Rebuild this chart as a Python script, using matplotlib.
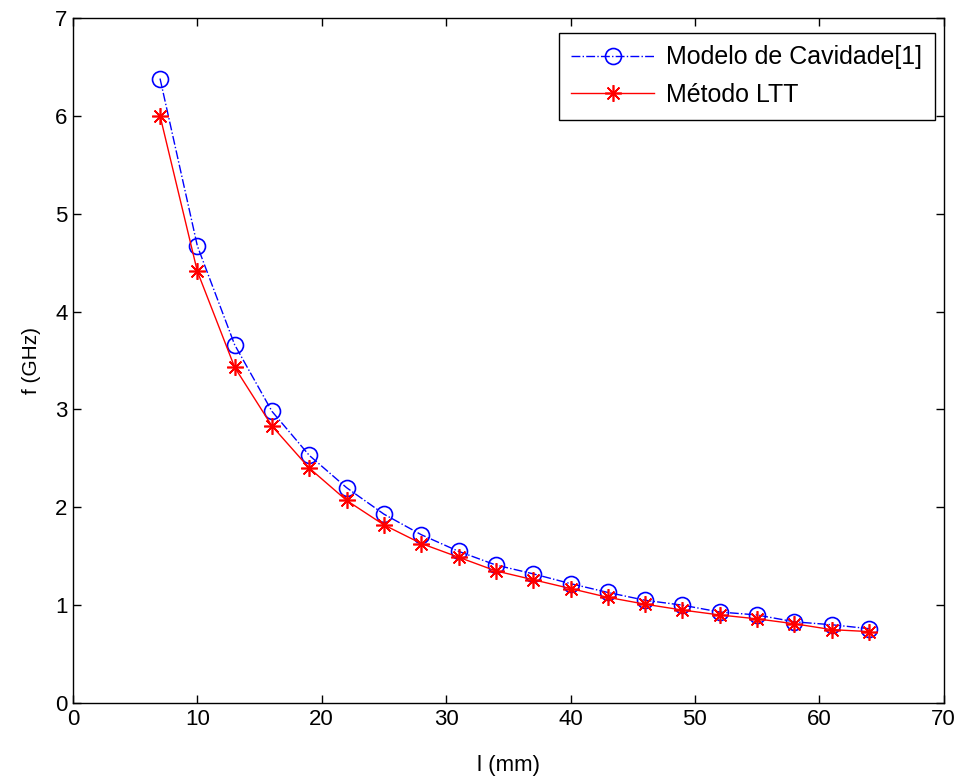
import numpy as np
import matplotlib

matplotlib.use("Agg")
import matplotlib.pyplot as plt

plt.rcParams["font.family"] = ["Liberation Sans", "DejaVu Sans"]

# comprimento do patch (mm)
L_MM = [7, 10, 13, 16, 19, 22, 25, 28, 31, 34, 37, 40, 43, 46, 49, 52, 55, 58, 61, 64]
# frequencia de ressonancia (GHz)
F_CAVIDADE = [6.38, 4.67, 3.66, 2.98, 2.53, 2.20, 1.93, 1.72, 1.55, 1.41,
              1.32, 1.22, 1.13, 1.05, 1.00, 0.93, 0.90, 0.83, 0.80, 0.76]
F_LTT = [6.00, 4.41, 3.43, 2.83, 2.40, 2.07, 1.82, 1.63, 1.49, 1.35,
         1.26, 1.17, 1.08, 1.01, 0.95, 0.90, 0.86, 0.81, 0.75, 0.73]

X_TICKS = [0, 10, 20, 30, 40, 50, 60, 70]
Y_TICKS = [0, 1, 2, 3, 4, 5, 6, 7]


def main() -> None:
    fig = plt.figure(figsize=(9.6, 7.76), dpi=100)
    ax = fig.add_axes([0.076, 0.094, 0.907, 0.883])

    ax.plot(L_MM, F_CAVIDADE, color="blue", linestyle="-.", linewidth=1.0,
            marker="o", markersize=11.5, markerfacecolor="none",
            markeredgecolor="blue", markeredgewidth=1.2,
            label="Modelo de Cavidade[1]")
    ax.plot(L_MM, F_LTT, color="red", linestyle="-", linewidth=1.0,
            marker=(8, 2, 0), markersize=12, markeredgecolor="red",
            markeredgewidth=1.2, label="Método LTT")

    ax.set_xlim(0, 70)
    ax.set_ylim(0, 7)
    ax.set_xticks(X_TICKS)
    ax.set_yticks(Y_TICKS)
    ax.tick_params(direction="in", top=True, right=True, length=6,
                   width=1.0, labelsize=16, pad=4)
    for s in ax.spines.values():
        s.set_linewidth(1.0)

    ax.set_xlabel("l (mm)", fontsize=16, labelpad=18)
    ax.set_ylabel("f (GHz)", fontsize=15, labelpad=10)

    leg = ax.legend(loc="upper right", fontsize=18, fancybox=False,
                    framealpha=1.0, edgecolor="black", borderpad=0.5,
                    handlelength=3.3, labelspacing=0.55, handletextpad=0.5,
                    borderaxespad=0.0, bbox_to_anchor=(0.99, 0.978))
    leg.get_frame().set_linewidth(1.0)

    fig.savefig("out.png", dpi=100)


if __name__ == "__main__":
    main()
